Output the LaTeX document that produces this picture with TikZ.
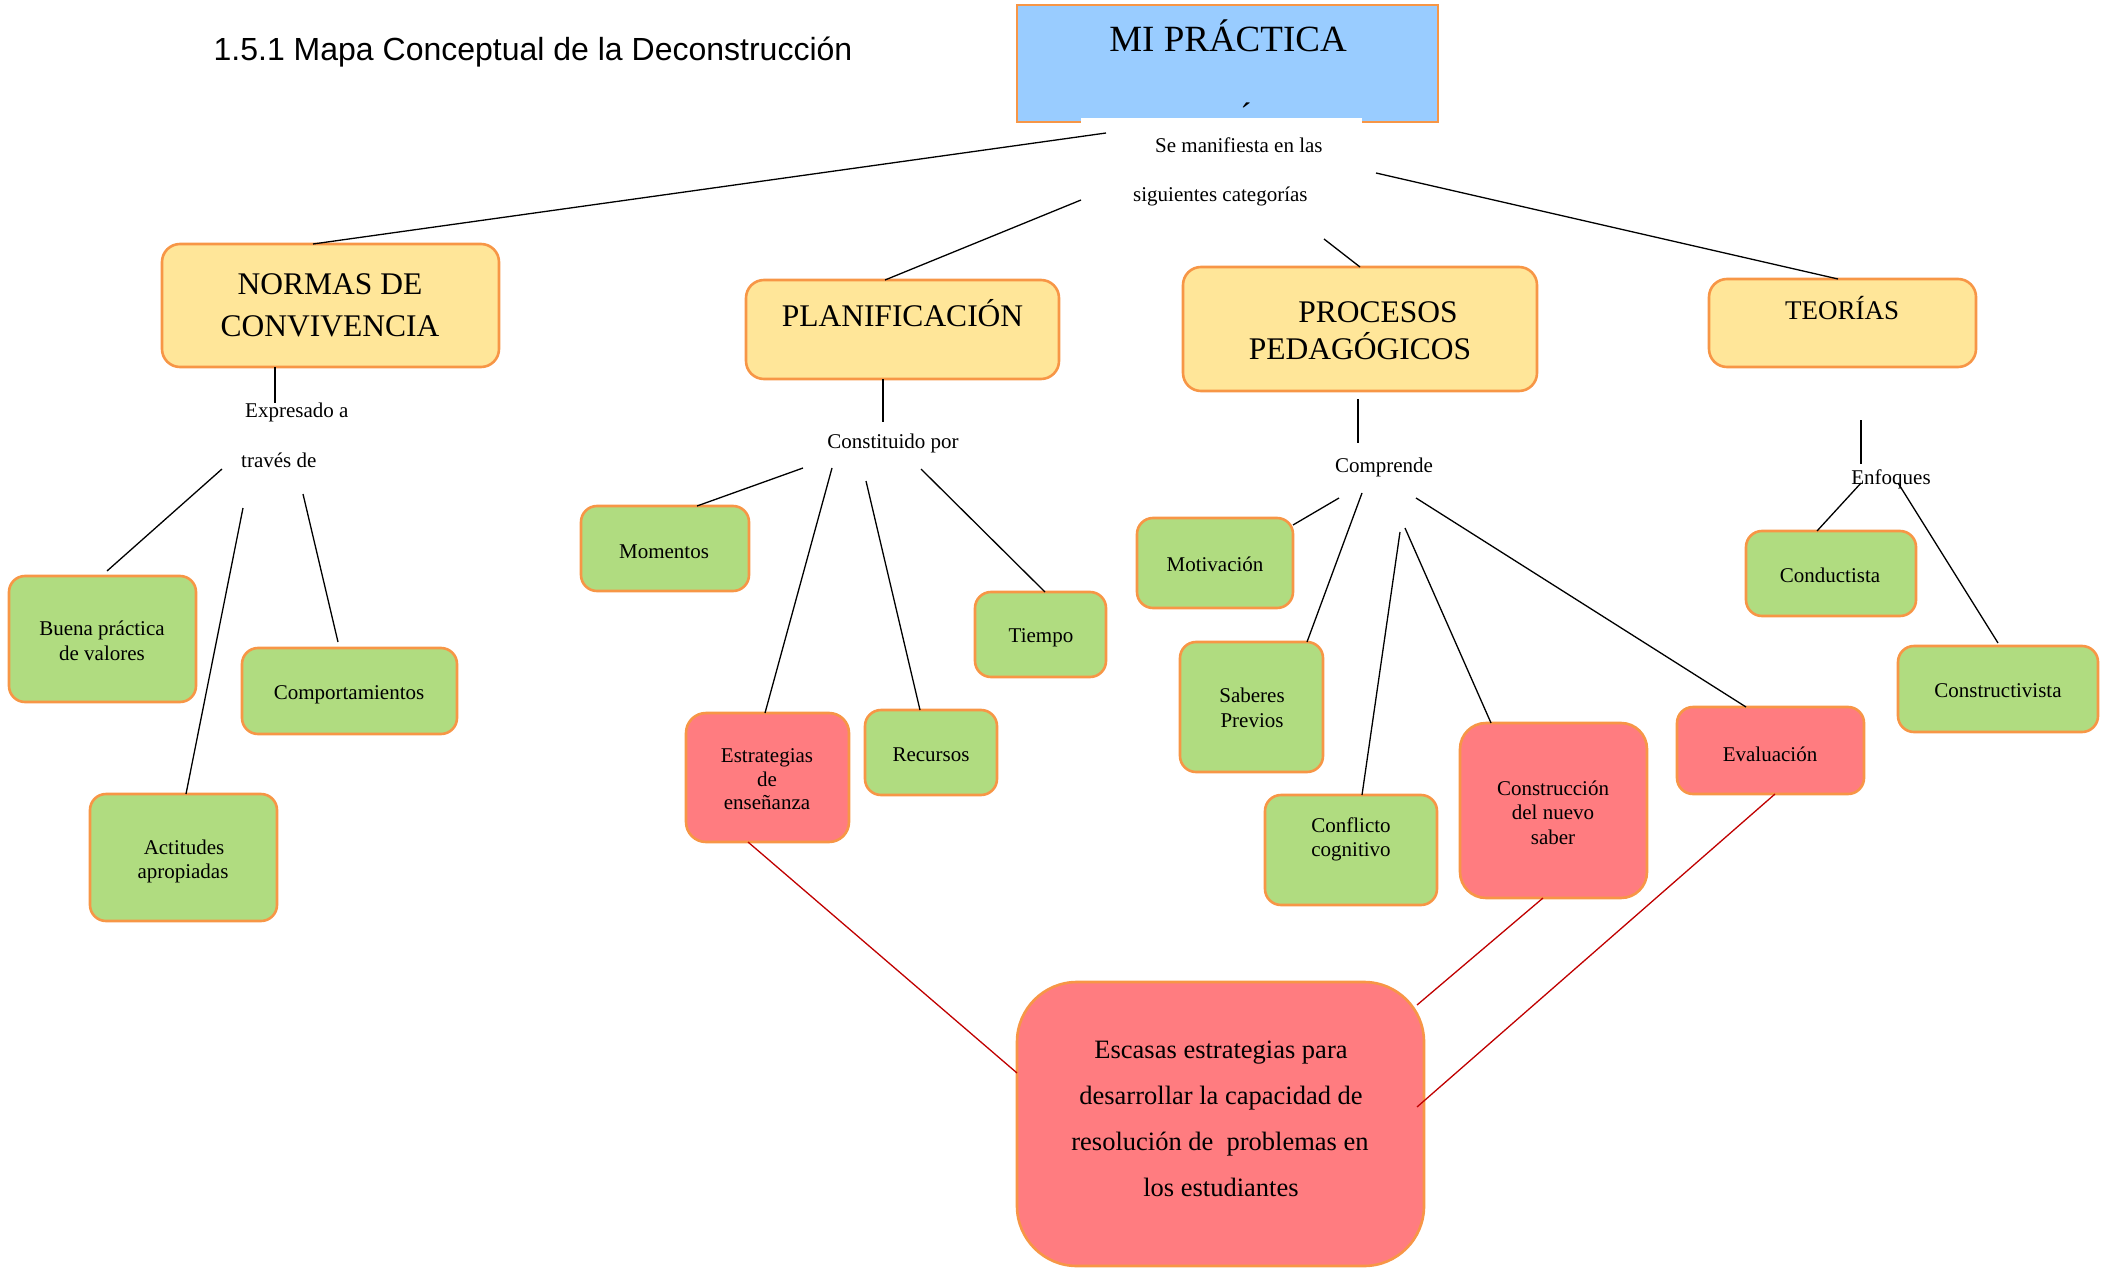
\documentclass[tikz,border=0pt]{standalone}
\usepackage{fontspec}
\setmainfont{Liberation Serif}
\newfontfamily\titlefont{Liberation Sans}
\definecolor{bxborder}{HTML}{F79646}
\definecolor{ylw}{HTML}{FFE699}
\definecolor{grn}{HTML}{B0DC80}
\definecolor{rd}{HTML}{FF7C80}
\definecolor{blu}{HTML}{99CCFF}
\definecolor{dred}{HTML}{C00000}
\begin{document}
\begin{tikzpicture}[x=1pt,y=-1pt,
  box/.style={draw=bxborder,line width=2.6pt,rounded corners=16pt,inner sep=0pt,outer sep=0pt},
  ybox/.style={box,fill=ylw,rounded corners=18pt},
  gbox/.style={box,fill=grn},
  rbox/.style={box,fill=rd},
  conn/.style={line width=1.3pt,black},
  rconn/.style={line width=1.3pt,dred},
  txt/.style={inner sep=0pt,anchor=base,font=\fontsize{21}{25}\selectfont},
  txtw/.style={txt,anchor=base west},
  big/.style={inner sep=0pt,anchor=base,font=\fontsize{31.5}{38}\selectfont},
  huge/.style={inner sep=0pt,anchor=base,font=\fontsize{26.5}{46}\selectfont}
]
\useasboundingbox (0,0) rectangle (2107,1268);

% title
\node[inner sep=0pt,anchor=base,font=\titlefont\fontsize{32}{38}\selectfont] (title) at (533,61) {1.5.1 Mapa Conceptual de la Deconstrucción};

% top box
\node[draw=bxborder,line width=2.6pt,fill=blu,inner sep=0pt,minimum width=421pt,minimum height=117pt] (mi) at (1227.5,63.5) {};
\fill[white] (1081,118) rectangle (1362,127);
\node[inner sep=0pt,anchor=base,font=\fontsize{37}{44}\selectfont] (mit) at (1228,52) {MI PRÁCTICA};
\node[inner sep=0pt,anchor=base,font=\fontsize{34}{40}\selectfont] (acc) at (1246,127) {´};
\node[txtw] (se1) at (1155,153) {Se manifiesta en las};
\node[txtw] (se2) at (1133,202) {siguientes categorías};
\coordinate (m1) at (1106,133);
\coordinate (m2) at (1081,200);
\coordinate (m3) at (1324,239);
\coordinate (m4) at (1376,173);

% category boxes
\node[ybox,minimum width=337pt,minimum height=123pt] (normas) at (330.5,305.5) {};
\node[big] (normas1) at (330,294) {NORMAS DE};
\node[big] (normas2) at (330,336) {CONVIVENCIA};
\node[ybox,minimum width=313pt,minimum height=99pt] (plan) at (902.5,329.5) {};
\node[big] (plant) at (902.5,326) {PLANIFICACIÓN};
\node[ybox,minimum width=354pt,minimum height=124pt] (proc) at (1360,329) {};
\node[big] (proc1) at (1378,322) {PROCESOS};
\node[big] (proc2) at (1360,359) {PEDAGÓGICOS};
\node[ybox,minimum width=267pt,minimum height=88pt] (teo) at (1842.5,323) {};
\node[inner sep=0pt,anchor=base,font=\fontsize{27}{32}\selectfont] (teot) at (1842,319) {TEORÍAS};

\draw[conn] (m1) -- ([xshift=-17.5pt]normas.north);
\draw[conn] (m2) -- ([xshift=-17.5pt]plan.north);
\draw[conn] (m3) -- (proc.north);
\draw[conn] (m4) -- ([xshift=-4.5pt]teo.north);

% NORMAS branch
\coordinate (n0) at (275,403);
\draw[conn] ([xshift=-55.5pt]normas.south) -- (n0);
\node[txtw] (exp1) at (245,417) {Expresado a};
\node[txtw] (exp2) at (241,467) {través de};
\coordinate (n1) at (222,469);
\coordinate (n2) at (243,508);
\coordinate (n3) at (303,494);
\node[gbox,minimum width=187pt,minimum height=126pt] (buena) at (102.5,639) {};
\node[txt] (buena1) at (102,635) {Buena práctica};
\node[txt] (buena2) at (102,660) {de valores};
\node[gbox,minimum width=215pt,minimum height=86pt] (comp) at (349.5,691) {};
\node[txt] (compt) at (349,699) {Comportamientos};
\node[gbox,minimum width=187pt,minimum height=127pt] (acti) at (183.5,857.5) {};
\node[txt] (acti1) at (184,854) {Actitudes};
\node[txt] (acti2) at (183,878) {apropiadas};
\draw[conn] (n1) -- ([xshift=4.5pt,yshift=5pt]buena.north);
\draw[conn] (n2) -- ([xshift=2.5pt]acti.north);
\draw[conn] (n3) -- ([xshift=-11.5pt,yshift=6pt]comp.north);

% PLANIFICACION branch
\coordinate (p0) at (883,422);
\draw[conn] ([xshift=-19.5pt]plan.south) -- (p0);
\node[txt] (const) at (893,448) {Constituido por};
\coordinate (p1) at (803,468);
\coordinate (p2) at (832,468);
\coordinate (p3) at (866,481);
\coordinate (p4) at (921,469);
\node[gbox,minimum width=168pt,minimum height=85pt] (mom) at (665,548.5) {};
\node[txt] (momt) at (664,558) {Momentos};
\node[rbox,rounded corners=20pt,minimum width=163pt,minimum height=129pt] (estr) at (767.5,777.5) {};
\node[txt] (estr1) at (767,762) {Estrategias};
\node[txt] (estr2) at (767,786) {de};
\node[txt] (estr3) at (767,809) {enseñanza};
\node[gbox,minimum width=132pt,minimum height=85pt] (recu) at (931,752.5) {};
\node[txt] (recut) at (931,761) {Recursos};
\node[gbox,minimum width=131pt,minimum height=85pt] (tiem) at (1040.5,634.5) {};
\node[txt] (tiemt) at (1041,642) {Tiempo};
\draw[conn] (p1) -- ([xshift=32pt]mom.north);
\draw[conn] (p2) -- ([xshift=-2.5pt]estr.north);
\draw[conn] (p3) -- ([xshift=-11pt]recu.north);
\draw[conn] (p4) -- ([xshift=4.5pt]tiem.north);

% PROCESOS branch
\coordinate (c0) at (1358,443);
\draw[conn] ([xshift=-2pt,yshift=-8pt]proc.south) -- (c0);
\node[txt] (comprende) at (1384,472) {Comprende};
\coordinate (c1) at (1339,498);
\coordinate (c2) at (1362,493);
\coordinate (c3) at (1400,532);
\coordinate (c4) at (1405,528);
\coordinate (c5) at (1416,498);
\node[gbox,minimum width=156pt,minimum height=90pt] (moti) at (1215,563) {};
\node[txt] (motit) at (1215,571) {Motivación};
\node[gbox,minimum width=143pt,minimum height=130pt] (sabe) at (1251.5,707) {};
\node[txt] (sabe1) at (1252,702) {Saberes};
\node[txt] (sabe2) at (1252,727) {Previos};
\node[gbox,minimum width=172pt,minimum height=110pt] (conf) at (1351,850) {};
\node[txt] (conf1) at (1351,832) {Conflicto};
\node[txt] (conf2) at (1351,856) {cognitivo};
\node[rbox,rounded corners=26pt,minimum width=187pt,minimum height=175pt] (cons) at (1553.5,810.5) {};
\node[txt] (cons1) at (1553,795) {Construcción};
\node[txt] (cons2) at (1553,819) {del nuevo};
\node[txt] (cons3) at (1553,844) {saber};
\node[rbox,minimum width=187pt,minimum height=87pt] (eval) at (1770.5,750.5) {};
\node[txt] (evalt) at (1770,761) {Evaluación};
\draw[conn] (c1) -- ([yshift=38pt]moti.east);
\draw[conn] (c2) -- ([xshift=55.5pt]sabe.north);
\draw[conn] (c3) -- ([xshift=11pt]conf.north);
\draw[conn] (c4) -- ([xshift=-62.5pt]cons.north);
\draw[conn] (c5) -- ([xshift=-24.5pt]eval.north);

% TEORIAS branch
\coordinate (t0) at (1861,420);
\coordinate (t1) at (1861,464);
\draw[conn] (t0) -- (t1);
\node[txt] (enf) at (1891,484) {Enfoques};
\coordinate (t2) at (1861,483);
\coordinate (t3) at (1898,483);
\node[gbox,minimum width=170pt,minimum height=85pt] (cond) at (1831,573.5) {};
\node[txt] (condt) at (1830,582) {Conductista};
\node[gbox,minimum width=200pt,minimum height=86pt] (ctv) at (1998,689) {};
\node[txt] (ctvt) at (1998,697) {Constructivista};
\draw[conn] (t2) -- ([xshift=-14pt]cond.north);
\draw[conn] (t3) -- ([yshift=3pt]ctv.north);

% bottom box
\node[rbox,rounded corners=60pt,minimum width=407pt,minimum height=284pt] (bigb) at (1220.5,1124) {};
\node[huge] (b1) at (1221,1058) {Escasas estrategias para};
\node[huge] (b2) at (1221,1104) {desarrollar la capacidad de};
\node[huge] (b3) at (1220,1150) {resolución de~ problemas en};
\node[huge] (b4) at (1221,1196) {los estudiantes};
\draw[rconn] ([xshift=-19.5pt]estr.south) -- ([yshift=51pt]bigb.west);
\draw[rconn] ([xshift=-10.5pt]cons.south) -- ([xshift=-7pt,yshift=119pt]bigb.east);
\draw[rconn] ([xshift=4.5pt]eval.south) -- ([xshift=-7pt,yshift=17pt]bigb.east);
\end{tikzpicture}
\end{document}
